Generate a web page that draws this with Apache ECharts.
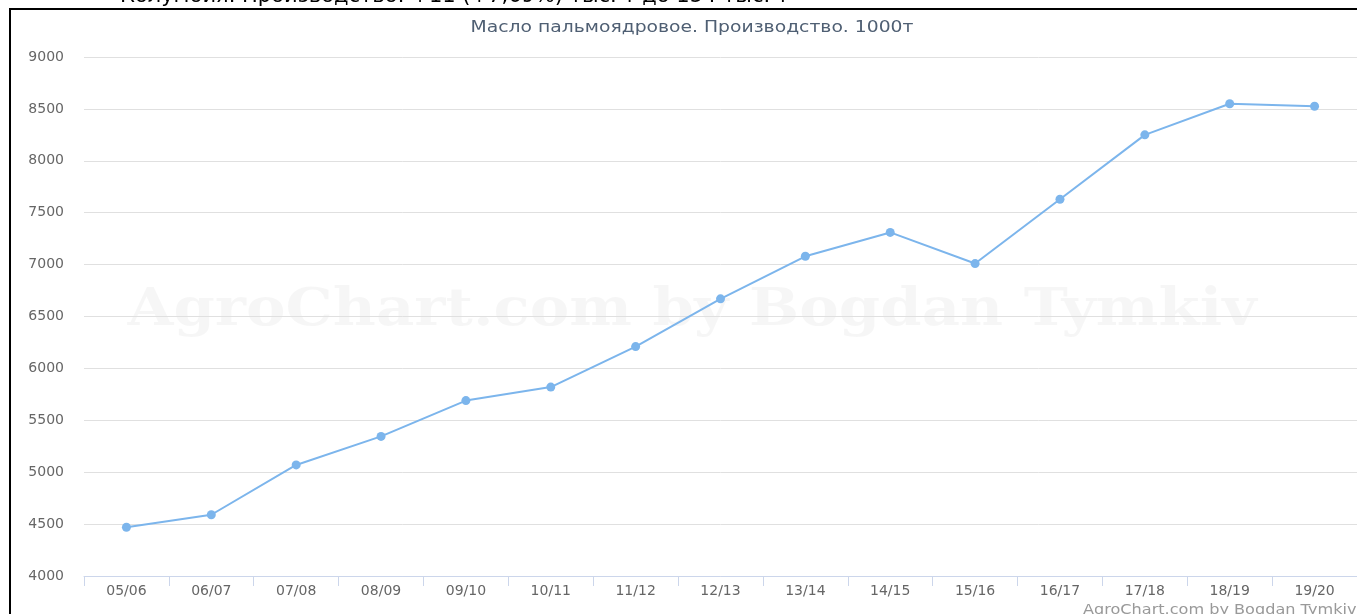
<!DOCTYPE html>
<html>
<head>
<meta charset="utf-8">
<script src="https://cdn.jsdelivr.net/npm/echarts@6/dist/echarts.min.js"></script>
<style>
html,body{margin:0;padding:0;background:#fff;}
#chart{width:1357px;height:614px;}
</style>
</head>
<body>
<div id="chart"></div>
<script>
const categories = ['05/06','06/07','07/08','08/09','09/10','10/11','11/12','12/13','13/14','14/15','15/16','16/17','17/18','18/19','19/20'];
const production = [4470, 4590, 5070, 5345, 5690, 5820, 6210, 6670, 7080, 7310, 7010, 7630, 8250, 8550, 8525];
const yTicks = {min: 4000, max: 9000, interval: 500};
const titleText = 'Масло пальмоядровое. Производство. 1000т';
const headerText = 'Колумбия. Производство: +11 (+7,69%) тыс. т до 154 тыс. т';
const creditText = 'AgroChart.com by Bogdan Tymkiv';

const chart = echarts.init(document.getElementById('chart'), null, {renderer: 'canvas'});
chart.setOption({
  animation: false,
  backgroundColor: '#fff',
  textStyle: {fontFamily: 'DejaVu Sans'},
  grid: {left: 84, right: -2, top: 57, bottom: 38, containLabel: false},
  xAxis: {
    type: 'category',
    data: categories,
    boundaryGap: true,
    axisLine: {lineStyle: {color: '#ccd6eb', width: 1}},
    axisTick: {show: true, length: 10, lineStyle: {color: '#ccd6eb'}},
    axisLabel: {color: '#666', fontSize: 14, margin: 8, fontFamily: 'DejaVu Sans'},
    splitLine: {show: false}
  },
  yAxis: {
    type: 'value',
    min: yTicks.min,
    max: yTicks.max,
    interval: yTicks.interval,
    axisLine: {show: false},
    axisTick: {show: false},
    axisLabel: {color: '#666', fontSize: 14, margin: 20, fontFamily: 'DejaVu Sans', formatter: v => String(v)},
    splitLine: {lineStyle: {color: '#e0e0e0', width: 1}}
  },
  series: [{
    type: 'line',
    data: production,
    symbol: 'circle',
    symbolSize: 9,
    showSymbol: true,
    lineStyle: {color: '#7cb5ec', width: 2},
    itemStyle: {color: '#7cb5ec'},
    z: 5
  }],
  graphic: [
    {
      type: 'text', x: 692, y: 311, scaleX: 1.14, z: -10, silent: true,
      style: {text: creditText, fill: 'rgba(0,0,0,0.035)', font: 'bold 52px "DejaVu Serif"', textAlign: 'center', textVerticalAlign: 'middle'}
    },
    {
      type: 'text', x: 692, y: 28.5, scaleX: 1.25, z: 50, silent: true,
      style: {text: titleText, fill: '#4f5f73', font: '15px "DejaVu Sans"', textAlign: 'center', textVerticalAlign: 'middle'}
    },
    {
      type: 'rect', z: 100, silent: true,
      shape: {x: 10, y: 9, width: 1400, height: 700},
      style: {fill: 'none', stroke: '#000', lineWidth: 2}
    },
    {
      type: 'text', z: 100, silent: true, x: 120, y: 7,
      style: {text: headerText, fill: '#000', font: '21px "DejaVu Sans"', textVerticalAlign: 'bottom'}
    },
    {
      type: 'text', z: 100, silent: true, x: 1083, y: 603, scaleX: 1.15,
      style: {text: creditText, fill: '#999', font: '14px "DejaVu Sans"', textVerticalAlign: 'top'}
    }
  ]
});
</script>
</body>
</html>
